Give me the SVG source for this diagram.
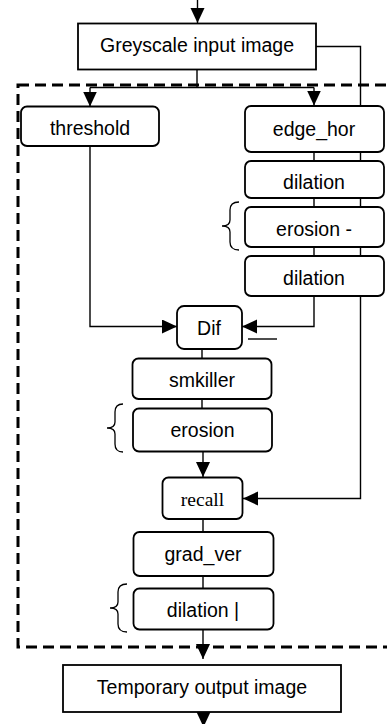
<svg xmlns="http://www.w3.org/2000/svg" width="387" height="724" viewBox="0 0 387 724">
<style>
.box{fill:#fff;stroke:#000;stroke-width:1.8}
.ln{fill:none;stroke:#000;stroke-width:1.4}
.br{fill:none;stroke:#000;stroke-width:1.3}
.t{font-family:"Liberation Sans",Arial,sans-serif;font-size:19.5px;text-anchor:middle;fill:#000}
.s{font-family:"Liberation Serif","Times New Roman",serif;font-size:19.5px;text-anchor:middle;fill:#000}
.dash{fill:none;stroke:#000;stroke-width:3;stroke-dasharray:11 6}
</style>
<defs>
<marker id="ah" markerUnits="userSpaceOnUse" markerWidth="16" markerHeight="15" refX="15" refY="7" orient="auto">
<path d="M0,0 L15,7 L0,14 z" fill="#000"/>
</marker>
</defs>
<rect class="dash" x="18" y="85" width="400" height="562"/>
<g id="connectors">
<path class="ln" d="M197.5,0 V23" marker-end="url(#ah)"/>
<path class="ln" d="M197,69.5 V87.5 M90,87.5 H314"/>
<path class="ln" d="M90,87.5 V106.5" marker-end="url(#ah)"/>
<path class="ln" d="M314,87.5 V105.5" marker-end="url(#ah)"/>
<path class="ln" d="M316,46.5 H360.5 V498.5 H243" marker-end="url(#ah)"/>
<path class="ln" d="M314,152 V161 M314,198 V207 M314,247 V256"/>
<path class="ln" d="M90,146 V326.5 H177" marker-end="url(#ah)"/>
<path class="ln" d="M314,296 V326.5 H242" marker-end="url(#ah)"/>
<path class="ln" d="M248,339 H277"/>
<path class="ln" d="M202,349 V358.5 M202,399 V408.5"/>
<path class="ln" d="M203,452 V477" marker-end="url(#ah)"/>
<path class="ln" d="M203,519 V532 M203,576 V588.5"/>
<path class="ln" d="M203,629.5 V659" marker-end="url(#ah)"/>
<path class="ln" d="M203.5,712 V727" marker-end="url(#ah)"/>
<path class="br" d="M239,202 Q230,202 230,210 V220 Q230,226 222,226 Q230,226 230,232 V242 Q230,250 239,250"/>
<path class="br" d="M123,404 Q115,404 115,412 V422 Q115,428 107,428 Q115,428 115,434 V444 Q115,452 123,452"/>
<path class="br" d="M127,584 Q118,584 118,592 V602 Q118,608 110,608 Q118,608 118,614 V624 Q118,632 127,632"/>
</g>
<g id="greyscale"><rect class="box" x="78" y="23.5" width="238" height="46"/><text class="t" x="197" y="52">Greyscale input image</text></g>
<g id="threshold"><rect class="box" x="21" y="106.5" width="138" height="39.5" rx="6"/><text class="t" x="90" y="135">threshold</text></g>
<g id="edge_hor"><rect class="box" x="245" y="106" width="139" height="46" rx="6"/><text class="t" x="314" y="136">edge_hor</text></g>
<g id="dilation1"><rect class="box" x="245" y="161" width="139" height="37" rx="6"/><text class="t" x="314" y="189">dilation</text></g>
<g id="erosion1"><rect class="box" x="245" y="207" width="139" height="40" rx="6"/><text class="t" x="314" y="236">erosion -</text></g>
<g id="dilation2"><rect class="box" x="245" y="256" width="139" height="40" rx="6"/><text class="t" x="314" y="285">dilation</text></g>
<g id="dif"><rect class="box" x="177" y="306" width="65" height="43" rx="7"/><text class="t" x="209" y="335">Dif</text></g>
<g id="smkiller"><rect class="box" x="132.5" y="358.5" width="139" height="40.5" rx="6"/><text class="t" x="202" y="387">smkiller</text></g>
<g id="erosion2"><rect class="box" x="133" y="408.5" width="139" height="43" rx="6"/><text class="t" x="202.5" y="437">erosion</text></g>
<g id="recall"><rect class="box" x="162.5" y="477.5" width="80" height="41.5" rx="6"/><text class="s" x="202.5" y="506">recall</text></g>
<g id="grad_ver"><rect class="box" x="133.5" y="532" width="140" height="44" rx="6"/><text class="t" x="203" y="561">grad_ver</text></g>
<g id="dilation3"><rect class="box" x="133.5" y="588.5" width="140" height="41" rx="6"/><text class="t" x="203" y="617">dilation |</text></g>
<g id="temporary"><rect class="box" x="63" y="665" width="278" height="47"/><text class="t" x="202" y="693.5">Temporary output image</text></g>
</svg>
